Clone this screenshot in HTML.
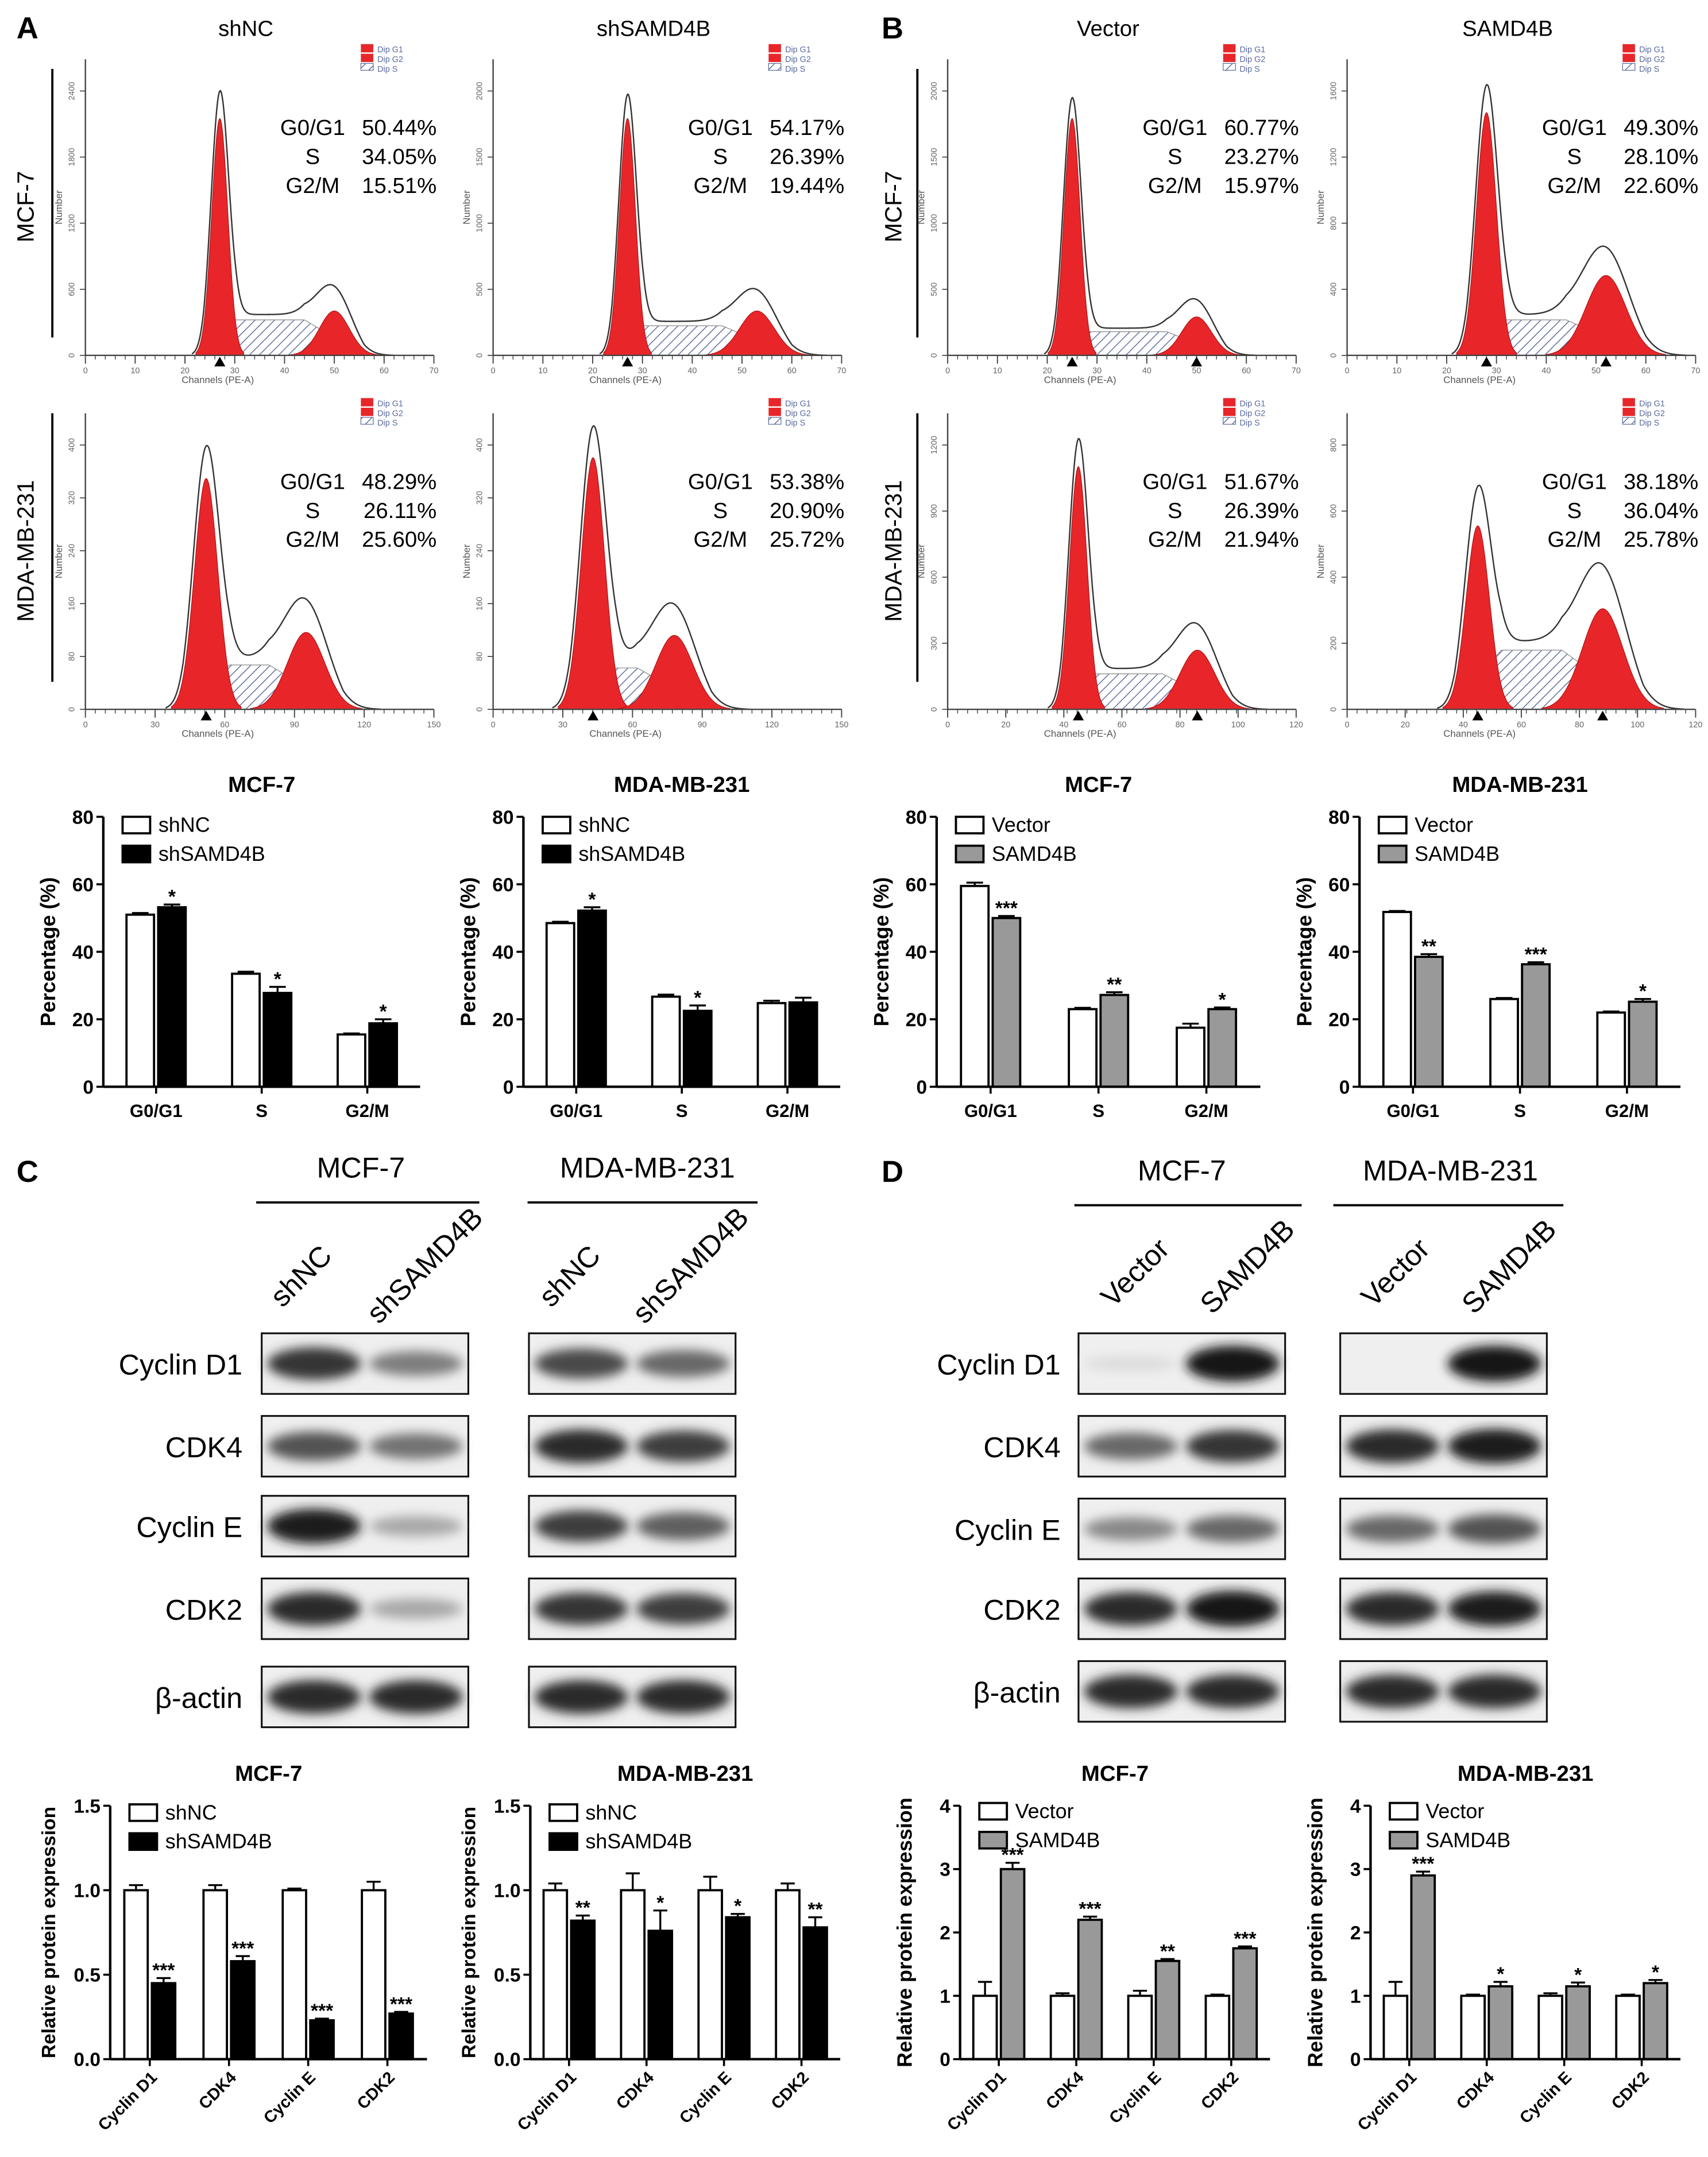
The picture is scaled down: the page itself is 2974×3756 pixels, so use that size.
<!DOCTYPE html>
<html><head><meta charset="utf-8"><style>
html,body{margin:0;padding:0;background:#fff;}
svg{display:block;font-family:"Liberation Sans",sans-serif;}
</style></head><body>
<svg id="fig" xmlns="http://www.w3.org/2000/svg" width="2974" height="3756" viewBox="0 0 1240 1566">
<defs>
<pattern id="hatch" patternUnits="userSpaceOnUse" width="5" height="5" patternTransform="rotate(45)">
<rect width="5" height="5" fill="#fff"/><line x1="0" y1="0" x2="0" y2="5" stroke="#5a6a9a" stroke-width="1.2"/></pattern>
<filter id="blur" x="-20%" y="-50%" width="140%" height="200%"><feGaussianBlur stdDeviation="4"/></filter>
</defs>
<g font-weight="bold" font-size="22">
<text x="12" y="28">A</text><text x="640" y="28">B</text><text x="12" y="858">C</text><text x="640" y="858">D</text>
</g>
<g id="hist"></g>
<g id="bars"></g>
<g id="blots"></g>
</svg>
<script>
const NS="http://www.w3.org/2000/svg";
function el(p,tag,attrs,txt){const e=document.createElementNS(NS,tag);for(const k in attrs)e.setAttribute(k,attrs[k]);if(txt!==undefined)e.textContent=txt;p.appendChild(e);return e;}

// ---------- Flow histogram data ----------
const histTitles=["shNC","shSAMD4B","shNC","shSAMD4B","Vector","SAMD4B","Vector","SAMD4B"];
const histXmax=[70,70,150,150,70,70,120,120];
const g1Mean=[27,27,52,43,25,28,45,45];
const g1Sd=[1.6,1.6,5,5,1.6,2,3,4];
const g1Peak=[0.80,0.80,0.78,0.85,0.80,0.82,0.82,0.62];
const g2Mean=[50,53,95,78,50,52,86,88];
const g2Sd=[3,3.5,8,8,3,4,6,7];
const g2Peak=[0.15,0.15,0.26,0.25,0.13,0.27,0.20,0.34];
const sLevel=[0.12,0.10,0.15,0.14,0.08,0.12,0.12,0.20];
const statG1=["50.44%","54.17%","48.29%","53.38%","60.77%","49.30%","51.67%","38.18%"];
const statS=["34.05%","26.39%","26.11%","20.90%","23.27%","28.10%","26.39%","36.04%"];
const statG2=["15.51%","19.44%","25.60%","25.72%","15.97%","22.60%","21.94%","25.78%"];
const yTicksH=[[0,600,1200,1800,2400],[0,500,1000,1500,2000],[0,80,160,240,320,400],[0,80,160,240,320,400],[0,500,1000,1500,2000],[0,400,800,1200,1600],[0,300,600,900,1200],[0,200,400,600,800]];
const hx=[62,358,62,358,688,978,688,978], hy=[258,258,515,515,258,258,515,515];
const HW=253, HH=215;

const H=document.getElementById('hist');
const rowLab=el(H,'g',{});


[[20,150,"MCF-7"],[20,400,"MDA-MB-231"],[650,150,"MCF-7"],[650,400,"MDA-MB-231"]].forEach(r=>{
 el(rowLab,'text',{x:r[0],y:r[1],transform:`rotate(-90 ${r[0]} ${r[1]})`,'text-anchor':'middle','font-size':17,'dominant-baseline':'middle'},r[2]);
});
[[38,50,245],[38,300,495],[666,50,245],[666,300,495]].forEach(l=>el(rowLab,'line',{x1:l[0],x2:l[0],y1:l[1],y2:l[2],stroke:'#000','stroke-width':1.6}));

function gauss(x,m,s){return Math.exp(-0.5*((x-m)/s)**2);}
for(let i=0;i<8;i++){
 const g=el(H,'g',{});
 
 
 const x0=hx[i],y0=hy[i],xm=histXmax[i];
 const X=c=>x0+c/xm*HW, Y=f=>y0-f*HH;
 if(i<2||(i>=4&&i<6)) el(g,'text',{x:x0+HW/2-10,y:y0-232,'text-anchor':'middle','font-size':16},histTitles[i]);
 const lx=x0+200,ly=y0-226;
 el(g,'rect',{x:lx,y:ly,width:9,height:6,fill:'#e8262a'});el(g,'rect',{x:lx,y:ly+7,width:9,height:6,fill:'#e8262a'});el(g,'rect',{x:lx,y:ly+14,width:9,height:5,fill:'url(#hatch)',stroke:'#5a6a9a','stroke-width':0.5});
 ['Dip G1','Dip G2','Dip S'].forEach((t,k)=>el(g,'text',{x:lx+12,y:ly+6+k*7,'font-size':6,fill:'#5a6aa0'},t));
 const N=160;let sp=`M${X(g1Mean[i]-2*g1Sd[i])},${y0}`;
 for(let k=0;k<=N;k++){const c=g1Mean[i]-2*g1Sd[i]+(g2Mean[i]+2*g2Sd[i]-g1Mean[i]+4*g1Sd[i])*k/N;
  let f=sLevel[i]*Math.min(1,Math.max(0,(c-(g1Mean[i]-2*g1Sd[i]))/(4*g1Sd[i])))*Math.min(1,Math.max(0,((g2Mean[i]+2*g2Sd[i])-c)/(4*g2Sd[i])));sp+=`L${X(c)},${Y(f)}`;}
 sp+=`L${X(g2Mean[i]+2*g2Sd[i])},${y0}Z`;
 el(g,'path',{d:sp,fill:'url(#hatch)',stroke:'#888','stroke-width':0.5});
 [[g1Mean[i],g1Sd[i],g1Peak[i]],[g2Mean[i],g2Sd[i],g2Peak[i]]].forEach(p=>{
  let d=`M${X(p[0]-3*p[1])},${y0}`;for(let k=0;k<=60;k++){const c=p[0]-3*p[1]+6*p[1]*k/60;d+=`L${X(c)},${Y(p[2]*gauss(c,p[0],p[1]))}`;}
  d+=`L${X(p[0]+3*p[1])},${y0}Z`;el(g,'path',{d,fill:'#e8262a',stroke:'#b01010','stroke-width':0.5});
 });
 let d='';for(let k=0;k<=300;k++){const c=g1Mean[i]-3.5*g1Sd[i]+(g2Mean[i]+4*g2Sd[i]-g1Mean[i]+3.5*g1Sd[i])*k/300;
  let sf=sLevel[i]*Math.min(1,Math.max(0,(c-(g1Mean[i]-2*g1Sd[i]))/(4*g1Sd[i])))*Math.min(1,Math.max(0,((g2Mean[i]+2*g2Sd[i])-c)/(4*g2Sd[i])));
  const f=1.03*g1Peak[i]*gauss(c,g1Mean[i],g1Sd[i]*1.1)+1.1*g2Peak[i]*gauss(c,g2Mean[i],g2Sd[i]*1.15)+sf*1.15;d+=(k?'L':'M')+X(c)+','+Y(f);}
 el(g,'path',{d,fill:'none',stroke:'#333','stroke-width':1});
 el(g,'line',{x1:x0,x2:x0+HW,y1:y0,y2:y0,stroke:'#444','stroke-width':1});
 el(g,'line',{x1:x0,x2:x0,y1:y0,y2:y0-HH,stroke:'#444','stroke-width':1});
 for(let c=0;c<=xm;c+=xm/35){el(g,'line',{x1:X(c),x2:X(c),y1:y0,y2:y0+3,stroke:'#444','stroke-width':0.6});}
 const st=xm===150?30:(xm===120?20:10);
 for(let c=0;c<=xm;c+=st){el(g,'line',{x1:X(c),x2:X(c),y1:y0,y2:y0+6,stroke:'#444','stroke-width':0.8});el(g,'text',{x:X(c),y:y0+13,'font-size':6,fill:'#666','text-anchor':'middle'},c);}
 el(g,'text',{x:x0+HW*0.38,y:y0+20,'font-size':7,fill:'#555','text-anchor':'middle'},'Channels (PE-A)');
 const yt=yTicksH[i],ymax=yt[yt.length-1]*1.12;
 yt.forEach(v=>{const yy=y0-v/ymax*HH;el(g,'line',{x1:x0-4,x2:x0,y1:yy,y2:yy,stroke:'#444','stroke-width':0.7});el(g,'text',{x:x0-8,y:yy,transform:`rotate(-90 ${x0-8} ${yy})`,'font-size':6,fill:'#666','text-anchor':'middle'},v);});
 el(g,'text',{x:x0-17,y:y0-HH/2,transform:`rotate(-90 ${x0-17} ${y0-HH/2})`,'font-size':7,fill:'#555','text-anchor':'middle'},'Number');
 el(g,'path',{d:`M${X(g1Mean[i])-4},${y0+8} l4,-7 l4,7z`,fill:'#000'});
 if(i>=4) el(g,'path',{d:`M${X(g2Mean[i])-4},${y0+8} l4,-7 l4,7z`,fill:'#000'});
 const sx=x0+165,sy=y0-160;
 [["G0/G1",statG1[i]],["S",statS[i]],["G2/M",statG2[i]]].forEach((r,k)=>{
  el(g,'text',{x:sx,y:sy+k*21,'font-size':16,'text-anchor':'middle'},r[0]);
  el(g,'text',{x:sx+90,y:sy+k*21,'font-size':16,'text-anchor':'end'},r[1]);});
}

// ---------- Bar charts ----------
const cellCats=["G0/G1","S","G2/M"];
const protCats=["Cyclin D1","CDK4","Cyclin E","CDK2"];
const a1Ctrl=[51,33.5,15.5], a1Trt=[53.2,27.8,18.8], a1CE=[0.5,0.6,0.3], a1TE=[0.8,1.8,1.2], a1Sig=["*","*","*"];
const a2Ctrl=[48.5,26.7,24.8], a2Trt=[52.2,22.5,25], a2CE=[0.4,0.6,0.7], a2TE=[1,1.6,1.4], a2Sig=["*","*",""];
const b1Ctrl=[59.5,23,17.5], b1Trt=[50,27.2,23], b1CE=[1,0.4,1.2], b1TE=[0.6,0.8,0.5], b1Sig=["***","**","*"];
const b2Ctrl=[51.8,26,22], b2Trt=[38.5,36.3,25.2], b2CE=[0.3,0.3,0.3], b2TE=[0.8,0.6,0.8], b2Sig=["**","***","*"];
const c1Ctrl=[1,1,1,1], c1Trt=[0.45,0.58,0.23,0.27], c1CE=[0.03,0.03,0.01,0.05], c1TE=[0.03,0.03,0.01,0.01], c1Sig=["***","***","***","***"];
const c2Ctrl=[1,1,1,1], c2Trt=[0.82,0.76,0.84,0.78], c2CE=[0.04,0.1,0.08,0.04], c2TE=[0.03,0.12,0.02,0.06], c2Sig=["**","*","*","**"];
const d1Ctrl=[1,1,1,1], d1Trt=[3,2.2,1.55,1.75], d1CE=[0.22,0.04,0.08,0.02], d1TE=[0.1,0.05,0.03,0.03], d1Sig=["***","***","**","***"];
const d2Ctrl=[1,1,1,1], d2Trt=[2.9,1.15,1.15,1.2], d2CE=[0.22,0.02,0.04,0.02], d2TE=[0.06,0.07,0.06,0.05], d2Sig=["***","*","*","*"];
const pctTicks=[0,20,40,60,80], relTicksC=[0,0.5,1.0,1.5], relTicksD=[0,1,2,3,4];

const B=document.getElementById('bars');
function barChart(o){
 const g=el(B,'g',{});
 
 
 const max=o.ticks[o.ticks.length-1];
 const Y=v=>o.yb-(v/max)*(o.yb-o.yt);
 const band=(o.x1-o.x0)/o.cats.length;
 el(g,'text',{x:(o.x0+o.x1)/2,y:o.yt-18,'text-anchor':'middle','font-size':16,'font-weight':'bold'},o.title);
 o.ticks.forEach(v=>{el(g,'line',{x1:o.x0-5,x2:o.x0,y1:Y(v),y2:Y(v),stroke:'#000','stroke-width':1.5});
  el(g,'text',{x:o.x0-7,y:Y(v)+5,'text-anchor':'end','font-size':14,'font-weight':'bold'},o.fmt?v.toFixed(1):v);});
 const ttx=o.x0-(o.fmt?40:35);
 el(g,'text',{x:ttx,y:(o.yt+o.yb)/2,transform:`rotate(-90 ${ttx} ${(o.yt+o.yb)/2})`,'text-anchor':'middle','font-size':o.fmt?14:15,'font-weight':'bold'},o.ytitle);
 const bw=o.bw;
 o.cats.forEach((c,k)=>{
  const cx=o.x0+band*(k+0.5);
  [[o.ctrl[k],o.ce[k],'#fff',cx-bw-1.5,'control'],[o.trt[k],o.te[k],o.fill,cx+1.5,'treated']].forEach((b,j)=>{
   const r=el(g,'rect',{x:b[3],y:Y(b[0]),width:bw,height:o.yb-Y(b[0]),fill:b[2],stroke:'#000','stroke-width':1.6});
   
   
   const mx=b[3]+bw/2;
   el(g,'line',{x1:mx,x2:mx,y1:Y(b[0]),y2:Y(b[0]+b[1]),stroke:'#000','stroke-width':1.4});
   el(g,'line',{x1:mx-bw*0.3,x2:mx+bw*0.3,y1:Y(b[0]+b[1]),y2:Y(b[0]+b[1]),stroke:'#000','stroke-width':1.4});
  });
  if(o.sig[k]) el(g,'text',{x:cx+1.5+bw/2,y:Y(o.trt[k]+o.te[k])-1,'text-anchor':'middle','font-size':14,'font-weight':'bold'},o.sig[k]);
  el(g,'line',{x1:cx,x2:cx,y1:o.yb,y2:o.yb+5,stroke:'#000','stroke-width':1.5});
  if(o.rot){el(g,'text',{x:cx+6,y:o.yb+14,transform:`rotate(-45 ${cx+6} ${o.yb+14})`,'text-anchor':'end','font-size':12,'font-weight':'bold'},c);}
  else el(g,'text',{x:cx,y:o.yb+22,'text-anchor':'middle','font-size':13,'font-weight':'bold'},c);
 });
 el(g,'line',{x1:o.x0,x2:o.x0,y1:o.yt,y2:o.yb,stroke:'#000','stroke-width':1.8});
 el(g,'line',{x1:o.x0,x2:o.x1,y1:o.yb,y2:o.yb,stroke:'#000','stroke-width':1.8});
 o.leg.forEach((t,k)=>{const ly=o.legY+k*21;
  el(g,'rect',{x:o.x0+14,y:ly-11,width:20,height:12,fill:k?o.fill:'#fff',stroke:'#000','stroke-width':1.6});
  el(g,'text',{x:o.x0+40,y:ly,'font-size':15},t);});
}
const shL=["shNC","shSAMD4B"], vL=["Vector","SAMD4B"];
barChart({name:'bar-chart-a-mcf7',title:'MCF-7',x0:75,x1:305,yt:593,yb:789,ticks:pctTicks,cats:cellCats,ctrl:a1Ctrl,trt:a1Trt,ce:a1CE,te:a1TE,sig:a1Sig,fill:'#000',bw:20,ytitle:'Percentage (%)',leg:shL,legY:604});
barChart({name:'bar-chart-a-mda',title:'MDA-MB-231',x0:380,x1:610,yt:593,yb:789,ticks:pctTicks,cats:cellCats,ctrl:a2Ctrl,trt:a2Trt,ce:a2CE,te:a2TE,sig:a2Sig,fill:'#000',bw:20,ytitle:'Percentage (%)',leg:shL,legY:604});
barChart({name:'bar-chart-b-mcf7',title:'MCF-7',x0:680,x1:915,yt:593,yb:789,ticks:pctTicks,cats:cellCats,ctrl:b1Ctrl,trt:b1Trt,ce:b1CE,te:b1TE,sig:b1Sig,fill:'#999',bw:20,ytitle:'Percentage (%)',leg:vL,legY:604});
barChart({name:'bar-chart-b-mda',title:'MDA-MB-231',x0:987,x1:1220,yt:593,yb:789,ticks:pctTicks,cats:cellCats,ctrl:b2Ctrl,trt:b2Trt,ce:b2CE,te:b2TE,sig:b2Sig,fill:'#999',bw:20,ytitle:'Percentage (%)',leg:vL,legY:604});
barChart({name:'bar-chart-c-mcf7',title:'MCF-7',x0:80,x1:310,yt:1311,yb:1495,ticks:relTicksC,fmt:1,rot:1,cats:protCats,ctrl:c1Ctrl,trt:c1Trt,ce:c1CE,te:c1TE,sig:c1Sig,fill:'#000',bw:17,ytitle:'Relative protein expression',leg:shL,legY:1321});
barChart({name:'bar-chart-c-mda',title:'MDA-MB-231',x0:385,x1:610,yt:1311,yb:1495,ticks:relTicksC,fmt:1,rot:1,cats:protCats,ctrl:c2Ctrl,trt:c2Trt,ce:c2CE,te:c2TE,sig:c2Sig,fill:'#000',bw:17,ytitle:'Relative protein expression',leg:shL,legY:1321});
barChart({name:'bar-chart-d-mcf7',title:'MCF-7',x0:697,x1:922,yt:1311,yb:1495,ticks:relTicksD,rot:1,cats:protCats,ctrl:d1Ctrl,trt:d1Trt,ce:d1CE,te:d1TE,sig:d1Sig,fill:'#999',bw:17,ytitle:'Relative protein expression',leg:vL,legY:1320});
barChart({name:'bar-chart-d-mda',title:'MDA-MB-231',x0:995,x1:1220,yt:1311,yb:1495,ticks:relTicksD,rot:1,cats:protCats,ctrl:d2Ctrl,trt:d2Trt,ce:d2CE,te:d2TE,sig:d2Sig,fill:'#999',bw:17,ytitle:'Relative protein expression',leg:vL,legY:1320});

// ---------- Western blots ----------
const W=document.getElementById('blots');
const rowNames=["Cyclin D1","CDK4","Cyclin E","CDK2","β-actin"];
const rowsYC=[968,1028,1086,1146,1210], rowsYD=[968,1028,1088,1146,1206];
const cL=[[0.85,0.5],[0.7,0.55],[0.95,0.3],[0.9,0.3],[0.9,0.9]];
const cR=[[0.75,0.6],[0.9,0.8],[0.8,0.65],[0.85,0.8],[0.9,0.9]];
const dL=[[0.05,1],[0.6,0.85],[0.45,0.6],[0.9,1],[0.9,0.9]];
const dR=[[0.02,1],[0.9,0.95],[0.6,0.7],[0.9,0.95],[0.9,0.9]];
function blotGroup(name,bx,by,bh,labX,header,lanes,intens){
 const g=el(W,'g',{});
 
 
 header.forEach(h=>{el(g,'text',{x:h.x,y:h.y,'text-anchor':'middle','font-size':21},h.t);el(g,'line',{x1:h.l1,x2:h.l2,y1:h.y+18,y2:h.y+18,stroke:'#000','stroke-width':1.6});});
 lanes.forEach(l=>el(g,'text',{x:l.x,y:l.y,transform:`rotate(-45 ${l.x} ${l.y})`,'font-size':21},l.t));
 rowNames.forEach((r,k)=>{
  el(g,'text',{x:labX,y:by[k]+bh/2+8,'text-anchor':'end','font-size':21},r);
  bx.forEach((b,j)=>{
   el(g,'rect',{x:b,y:by[k],width:150,height:bh,fill:'#efefef',stroke:'#111','stroke-width':1.3});
   intens[j][k].forEach((v,m)=>{
    if(v>0.03) el(g,'ellipse',{cx:b+38+m*74,cy:by[k]+bh/2,rx:34,ry:5+8*v,fill:`rgb(${Math.round(230-210*v)},${Math.round(230-210*v)},${Math.round(230-210*v)})`,filter:'url(#blur)'});
   });
  });
 });
}
blotGroup('blot-panel-c',[190,384],rowsYC,44,176,
 [{x:262,y:855,t:'MCF-7',l1:186,l2:348},{x:470,y:855,t:'MDA-MB-231',l1:383,l2:550}],
 [{x:205,y:950,t:'shNC'},{x:275,y:962,t:'shSAMD4B'},{x:400,y:950,t:'shNC'},{x:468,y:962,t:'shSAMD4B'}],[cL,cR]);
blotGroup('blot-panel-d',[783,973],rowsYD,44,770,
 [{x:858,y:857,t:'MCF-7',l1:780,l2:945},{x:1053,y:857,t:'MDA-MB-231',l1:968,l2:1135}],
 [{x:808,y:950,t:'Vector'},{x:880,y:955,t:'SAMD4B'},{x:997,y:950,t:'Vector'},{x:1070,y:955,t:'SAMD4B'}],[dL,dR]);
</script>
</body></html>
